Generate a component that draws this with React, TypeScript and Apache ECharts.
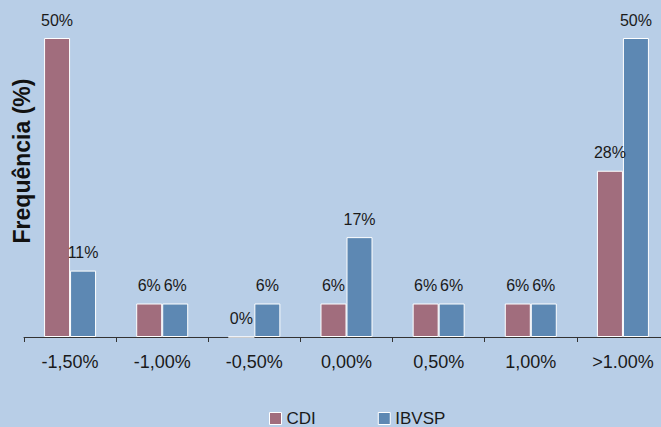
import React, { useEffect, useRef } from "react";
import * as echarts from "echarts";

const categories = ["-1,50%", "-1,00%", "-0,50%", "0,00%", "0,50%", "1,00%", ">1.00%"];
const cdiValues = [50, 5.6, 0, 5.6, 5.6, 5.6, 27.8];
const ibvspValues = [11.1, 5.6, 5.6, 16.7, 5.6, 5.6, 50];
const seriesNames = ["CDI", "IBVSP"];
const yAxisTitle = "Frequência (%)";

const FONT = "'Liberation Sans', Arial, Helvetica, sans-serif";

export default function App() {
  const ref = useRef<HTMLDivElement>(null);
  useEffect(() => {
    if (!ref.current) return;
    const chart = echarts.init(ref.current, undefined, { renderer: "svg" });
    const label = {
      show: true,
      position: "top" as const,
      distance: 10,
      fontSize: 16,
      color: "#1a1a1a",
      fontFamily: FONT,
      formatter: (p: any) => Math.round(p.value) + "%",
    };
    chart.setOption({
      animation: false,
      backgroundColor: "#b8cee7",
      textStyle: { fontFamily: FONT },
      grid: { left: 24, right: 0, top: 38, bottom: 90, containLabel: false },
      legend: {
        left: 269,
        top: 410,
        padding: 0,
        itemGap: 62,
        itemWidth: 12,
        itemHeight: 12,
        icon: "rect",
        itemStyle: { borderColor: "#ffffff", borderWidth: 1 },
        textStyle: { fontSize: 17, color: "#1a1a1a", fontFamily: FONT },
        data: seriesNames,
      },
      xAxis: {
        type: "category",
        data: categories,
        axisLine: { lineStyle: { color: "#333", width: 1 } },
        axisTick: { show: true, length: 5, lineStyle: { color: "#333" } },
        axisLabel: { fontSize: 18, color: "#1a1a1a", margin: 16, fontFamily: FONT },
      },
      yAxis: {
        type: "value",
        min: 0,
        max: 50,
        show: false,
        splitLine: { show: false },
      },
      graphic: [
        {
          type: "text",
          x: 22,
          y: 161,
          rotation: Math.PI / 2,
          style: {
            text: yAxisTitle,
            fontSize: 23,
            fontWeight: "bold",
            fill: "#111",
            fontFamily: FONT,
            textAlign: "center",
            textVerticalAlign: "middle",
          },
        },
      ],
      series: [
        {
          name: seriesNames[0],
          type: "bar",
          data: cdiValues,
          barWidth: 26,
          barGap: "0%",
          itemStyle: { color: "#a16d7d", borderColor: "#ffffff", borderWidth: 1 },
          label,
        },
        {
          name: seriesNames[1],
          type: "bar",
          data: ibvspValues,
          barWidth: 26,
          barGap: "0%",
          itemStyle: { color: "#5d88b3", borderColor: "#ffffff", borderWidth: 1 },
          label,
        },
      ],
    });
    return () => chart.dispose();
  }, []);
  return (
    <div
      style={{
        position: "fixed",
        left: 0,
        top: 0,
        width: 661,
        height: 427,
        overflow: "hidden",
        background: "#b8cee7",
      }}
    >
      <div ref={ref} style={{ width: 669, height: 427 }} />
    </div>
  );
}
